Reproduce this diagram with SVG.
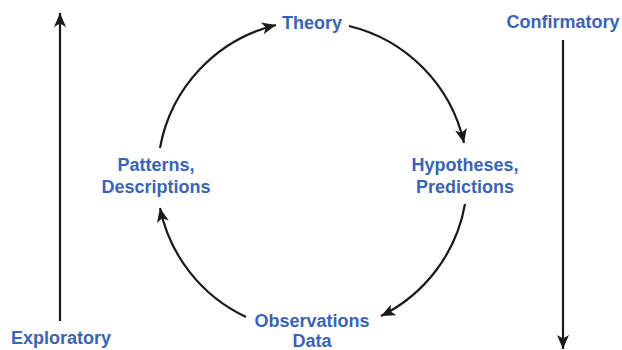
<svg xmlns="http://www.w3.org/2000/svg" width="622" height="350" viewBox="0 0 622 350">
<style>
.lbl{font-family:"Liberation Sans",Arial,Helvetica,sans-serif;font-weight:bold;font-size:18px;fill:#3b63b4;text-anchor:middle}
.con{fill:none;stroke:#1a1a1a;stroke-width:2.2}
</style>
<defs>
<marker id="ah" markerUnits="userSpaceOnUse" markerWidth="18" markerHeight="16" viewBox="-16 -8 18 16" refX="0" refY="0" orient="auto">
<path d="M0,0 L-14,-6 L-10.5,0 L-14,6 Z" fill="#1a1a1a"/>
</marker>
</defs>
<g id="connectors">
<path class="con" d="M160,148 A155,155 0 0 1 276,25" marker-end="url(#ah)"/>
<path class="con" d="M349,26 A155,155 0 0 1 464,143" marker-end="url(#ah)"/>
<path class="con" d="M465,204 A155,155 0 0 1 381,316" marker-end="url(#ah)"/>
<path class="con" d="M246,317 A155,155 0 0 1 160,208" marker-end="url(#ah)"/>
<path class="con" d="M60,321 L60,13" marker-end="url(#ah)"/>
<path class="con" d="M563,40 L563,349" marker-end="url(#ah)"/>
</g>
<g id="theory"><text class="lbl" x="312" y="29">Theory</text></g>
<g id="hypotheses"><text class="lbl" x="465" y="171">Hypotheses,</text><text class="lbl" x="465" y="193">Predictions</text></g>
<g id="observations"><text class="lbl" x="312" y="327">Observations</text><text class="lbl" x="312" y="347">Data</text></g>
<g id="patterns"><text class="lbl" x="156" y="171">Patterns,</text><text class="lbl" x="156" y="193">Descriptions</text></g>
<g id="exploratory"><text class="lbl" x="61" y="344">Exploratory</text></g>
<g id="confirmatory"><text class="lbl" x="563" y="28">Confirmatory</text></g>
</svg>
